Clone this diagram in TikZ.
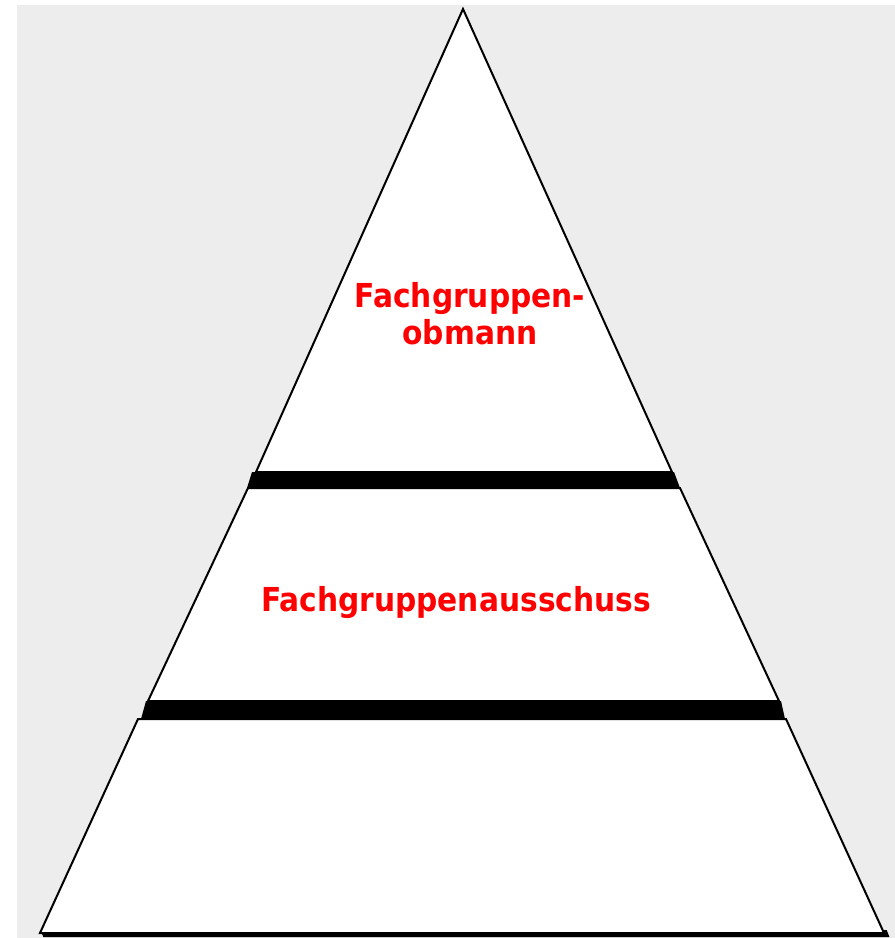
\documentclass[tikz,border=0pt]{standalone}
\usepackage{fontspec}
\newfontfamily\labelfont{DejaVu Sans Condensed}
\definecolor{bggray}{HTML}{EDEDED}
\definecolor{labelred}{HTML}{FF0000}
\begin{document}
\begin{tikzpicture}[x=1pt,y=-1pt,
  piece/.style={fill=white,draw=black,line width=2pt,line join=miter},
  shadowfill/.style={fill=black,draw=black,line width=2pt},
  band/.style={fill=black},
  lbl/.style={text=labelred,font=\labelfont\bfseries\fontsize{33}{37}\selectfont,align=center,inner sep=0pt}]
\useasboundingbox (0,0) rectangle (895,938);
\fill[bggray] (17,5) rectangle (895,938);
% bands between the pieces
\fill[band] (252,472) -- (674,472) -- (680,488) -- (247,488) -- cycle;
\fill[band] (146,701) -- (781,701) -- (785,719) -- (141,719) -- cycle;
% shadows
\filldraw[shadowfill] (44,936) -- (888,936) -- (886,931) -- (42,931) -- cycle;
% pieces
\draw[piece] (463,9) -- (672,472) -- (256,472) -- cycle;
\draw[piece] (248,488) -- (680,488) -- (779,701) -- (148,701) -- cycle;
\draw[piece] (138,719) -- (786,719) -- (884,933) -- (40,933) -- cycle;
% labels
\node[lbl] (top) at (470,314) {Fachgruppen-\\obmann};
\node[lbl] (mid) at (456,603) {Fachgruppenausschuss};
\end{tikzpicture}
\end{document}
